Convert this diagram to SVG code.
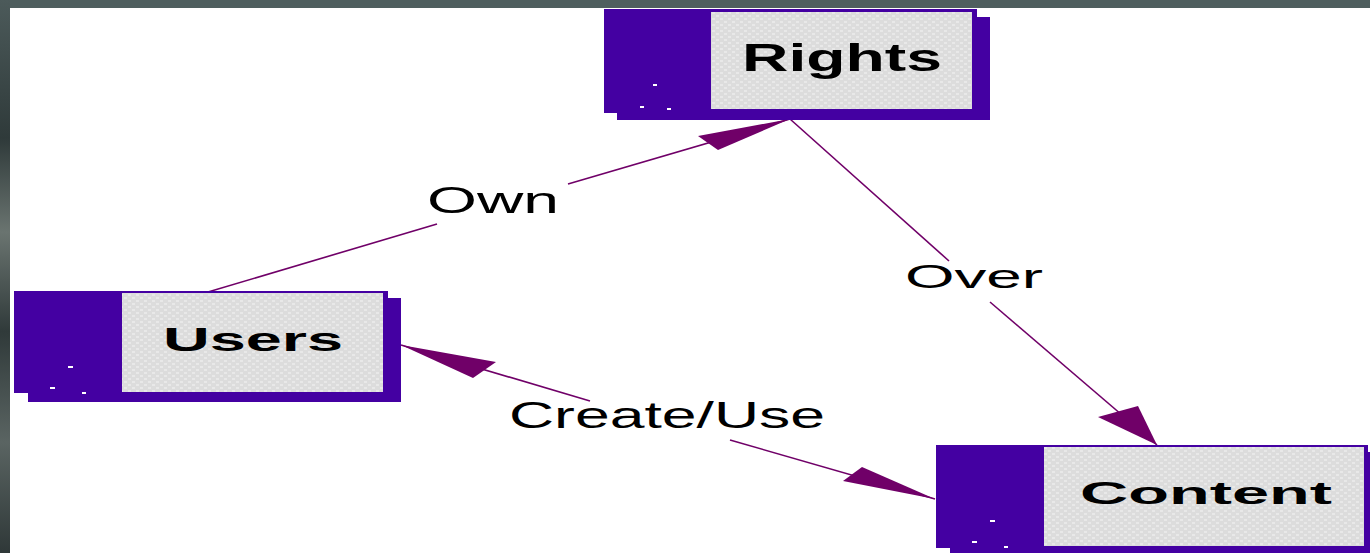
<svg xmlns="http://www.w3.org/2000/svg" width="1370" height="553" viewBox="0 0 1370 553">
<defs>
<linearGradient id="side" x1="0" y1="0" x2="0" y2="1">
<stop offset="0" stop-color="#4c5a5a"/>
<stop offset="0.25" stop-color="#2f3a3a"/>
<stop offset="0.42" stop-color="#6a7470"/>
<stop offset="0.6" stop-color="#303a3a"/>
<stop offset="0.8" stop-color="#5a6462"/>
<stop offset="1" stop-color="#2f3838"/>
</linearGradient>
<pattern id="tex" width="8" height="6" patternUnits="userSpaceOnUse">
<rect width="8" height="6" fill="#dcdcdc"/>
<rect x="0" y="0" width="3" height="2" fill="#e8e8e8"/>
<rect x="4" y="3" width="3" height="2" fill="#e8e8e8"/>
</pattern>
</defs>
<style>
.shadow{fill:#4400a2}
.main{fill:#4400a2}
.label{fill:url(#tex)}
.dot{fill:#ffffff}
.ntext{font-family:"Liberation Sans",Arial,sans-serif;font-weight:bold;fill:#000}
.etext{font-family:"Liberation Sans",Arial,sans-serif;fill:#000}
.conn line{stroke:#700068;stroke-width:1.6;fill:none}
.conn polygon{fill:#700068}
</style>
<rect width="1370" height="553" fill="#ffffff"/>
<rect x="0" y="0" width="1370" height="8" fill="#4f5f5f"/>
<rect x="0" y="0" width="10" height="553" fill="url(#side)"/>

<g id="connectors" class="conn">
<line x1="208" y1="292" x2="437" y2="224"/>
<line x1="568" y1="184" x2="790" y2="119"/>
<polygon points="790,119 698,136 718,150"/>
<line x1="790" y1="119" x2="949" y2="261"/>
<line x1="990" y1="302" x2="1157" y2="445"/>
<polygon points="1157,445 1098,417 1138,406"/>
<line x1="401" y1="345" x2="590" y2="401"/>
<line x1="730" y1="440" x2="935" y2="499"/>
<polygon points="401,345 496,362 473,378"/>
<polygon points="935,499 843,481 862,467"/>
<text class="etext" x="427" y="213" font-size="37" textLength="132" lengthAdjust="spacingAndGlyphs">Own</text>
<text class="etext" x="905" y="288" font-size="34" textLength="138" lengthAdjust="spacingAndGlyphs">Over</text>
<text class="etext" x="509" y="428" font-size="36" textLength="316" lengthAdjust="spacingAndGlyphs">Create/Use</text>
</g>

<g id="rights">
<rect class="shadow" x="617" y="17" width="373" height="103"/>
<rect class="main" x="604" y="9" width="373" height="104"/>
<rect class="label" x="711" y="12" width="261" height="97"/>
<rect class="dot" x="653" y="84" width="4" height="2"/>
<rect class="dot" x="640" y="106" width="4" height="2"/>
<rect class="dot" x="667" y="108" width="4" height="2"/>
<text class="ntext" x="742" y="71" font-size="38" textLength="200" lengthAdjust="spacingAndGlyphs">Rights</text>
</g>

<g id="users">
<rect class="shadow" x="28" y="298" width="373" height="104"/>
<rect class="main" x="14" y="291" width="374" height="102"/>
<rect class="label" x="122" y="293" width="261" height="99"/>
<rect class="dot" x="68" y="366" width="5" height="2"/>
<rect class="dot" x="50" y="387" width="5" height="2"/>
<rect class="dot" x="82" y="392" width="4" height="2"/>
<text class="ntext" x="163" y="351" font-size="34" textLength="180" lengthAdjust="spacingAndGlyphs">Users</text>
</g>

<g id="content">
<rect class="shadow" x="950" y="452" width="420" height="101"/>
<rect class="main" x="936" y="445" width="432" height="103"/>
<rect class="label" x="1044" y="447" width="320" height="99"/>
<rect class="dot" x="990" y="520" width="5" height="2"/>
<rect class="dot" x="972" y="541" width="5" height="2"/>
<rect class="dot" x="1004" y="546" width="4" height="2"/>
<text class="ntext" x="1080" y="504" font-size="32" textLength="252" lengthAdjust="spacingAndGlyphs">Content</text>
</g>
</svg>
